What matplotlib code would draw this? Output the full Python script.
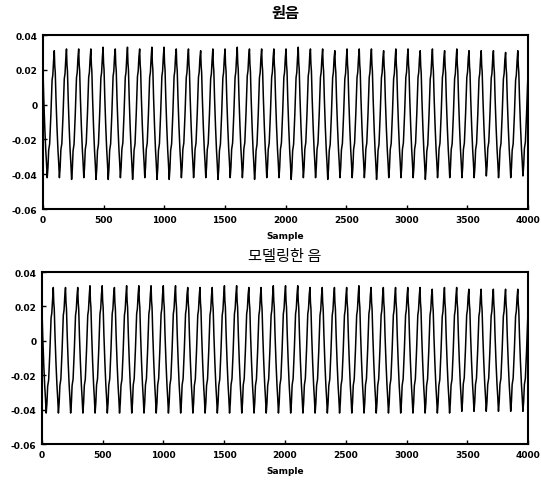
import matplotlib
matplotlib.use('Agg')
import matplotlib.pyplot as plt
import numpy as np
from matplotlib.ticker import FuncFormatter

plt.rcParams['font.family'] = ['Noto Sans CJK KR', 'DejaVu Sans']

# one pitch period: (phase in period, level between trough=0 and peak=1)
shape_phase = [0.00, 0.04, 0.08, 0.14, 0.22, 0.30, 0.36, 0.42, 0.48, 0.54, 0.62, 0.72, 0.82, 0.88, 0.94]
shape_level = [1.00, 0.88, 0.83, 0.62, 0.40, 0.22, 0.12, 0.00, 0.08, 0.22, 0.27, 0.50, 0.78, 0.82, 0.93]

period = 100.6      # samples per cycle
first_peak = 93     # sample of the first peak

# per-cycle peaks / troughs (41 cycles, the first one starts before sample 0)
peaks_orig = [0.030, 0.031, 0.032, 0.032, 0.032, 0.033, 0.032, 0.033, 0.032, 0.033,
              0.033, 0.032, 0.032, 0.031, 0.032, 0.032, 0.033, 0.032, 0.032, 0.032,
              0.032, 0.033, 0.032, 0.032, 0.031, 0.032, 0.032, 0.032, 0.031, 0.032,
              0.032, 0.031, 0.032, 0.031, 0.032, 0.031, 0.031, 0.031, 0.030, 0.031, 0.030]
troughs_orig = [-0.042, -0.042, -0.043, -0.042, -0.043, -0.043, -0.042, -0.043, -0.042, -0.043,
                -0.043, -0.042, -0.042, -0.042, -0.043, -0.042, -0.042, -0.043, -0.042, -0.042,
                -0.043, -0.042, -0.042, -0.043, -0.042, -0.042, -0.042, -0.043, -0.042, -0.042,
                -0.042, -0.043, -0.042, -0.042, -0.042, -0.042, -0.041, -0.042, -0.042, -0.041, -0.041]
peaks_model = [0.029, 0.031, 0.031, 0.031, 0.032, 0.032, 0.031, 0.032, 0.032, 0.032,
               0.032, 0.032, 0.031, 0.031, 0.031, 0.032, 0.032, 0.031, 0.031, 0.032,
               0.032, 0.032, 0.031, 0.031, 0.031, 0.031, 0.032, 0.031, 0.031, 0.031,
               0.031, 0.031, 0.030, 0.031, 0.031, 0.030, 0.030, 0.030, 0.030, 0.030, 0.029]
troughs_model = [-0.042, -0.042, -0.042, -0.042, -0.042, -0.042, -0.042, -0.042, -0.042, -0.042,
                 -0.042, -0.042, -0.042, -0.042, -0.042, -0.042, -0.042, -0.042, -0.042, -0.042,
                 -0.042, -0.042, -0.042, -0.042, -0.042, -0.042, -0.042, -0.042, -0.042, -0.042,
                 -0.042, -0.042, -0.042, -0.042, -0.041, -0.041, -0.041, -0.041, -0.041, -0.041, -0.041]

titles = ['원음', '모델링한 음']
xticks = [0, 500, 1000, 1500, 2000, 2500, 3000, 3500, 4000]
yticks = [-0.06, -0.04, -0.02, 0, 0.02, 0.04]


def waveform(peaks, troughs):
    xs, ys = [], []
    for k, (p, t) in enumerate(zip(peaks, troughs)):
        start = first_peak + (k - 1) * period
        for ph, lv in zip(shape_phase, shape_level):
            xs.append(start + ph * period)
            ys.append(t + lv * (p - t))
    return np.array(xs), np.array(ys)


fig = plt.figure(figsize=(5.41, 4.81), dpi=100)
boxes = [[0.0795, 0.5634, 0.8965, 0.3617], [0.0776, 0.0748, 0.8984, 0.3576]]
series = [(peaks_orig, troughs_orig), (peaks_model, troughs_model)]
title_pads = [13, 9]
title_weights = ['bold', 'normal']

for i, (box, (pk, tr), title) in enumerate(zip(boxes, series, titles)):
    ax = fig.add_axes(box)
    x, y = waveform(pk, tr)
    ax.plot(x, y, color='black', lw=1.1)
    ax.set_xlim(0, 4000)
    ax.set_ylim(-0.06, 0.04)
    ax.set_xticks(xticks)
    ax.set_yticks(yticks)
    ax.yaxis.set_major_formatter(FuncFormatter(lambda v, _: '0' if abs(v) < 1e-9 else '%g' % v))
    ax.tick_params(direction='in', length=3, width=1, labelsize=6.5, pad=4)
    for lab in ax.get_xticklabels() + ax.get_yticklabels():
        lab.set_fontweight('bold')
        lab.set_family('DejaVu Sans')
    for s in ax.spines.values():
        s.set_linewidth(1.5)
    ax.set_title(title, fontsize=11, fontweight=title_weights[i], pad=title_pads[i])
    ax.set_xlabel('Sample', fontsize=6.5, fontweight='bold', family='DejaVu Sans', labelpad=5)

fig.savefig('out.png', dpi=100, facecolor='white')
